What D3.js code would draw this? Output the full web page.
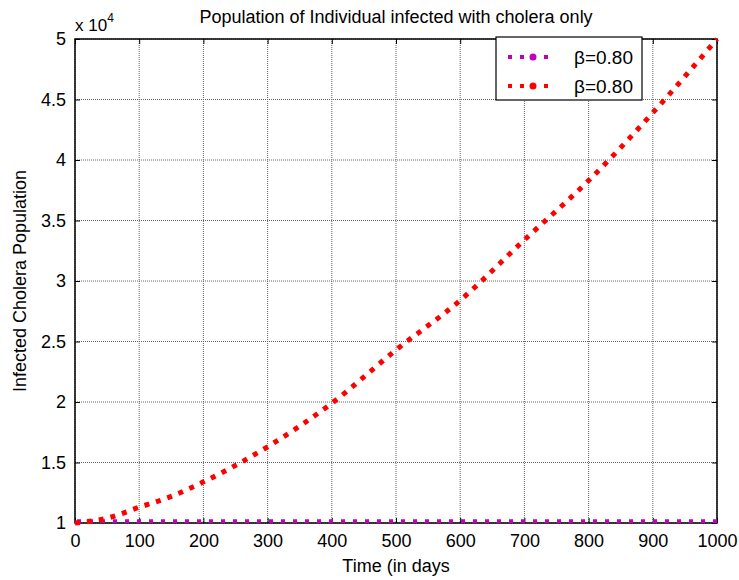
<!DOCTYPE html>
<html>
<head>
<meta charset="utf-8">
<script src="https://cdn.jsdelivr.net/npm/d3@7"></script>
<style>
  body { margin: 0; background: #fff; }
  svg text { font-family: "Liberation Sans", Arial, sans-serif; fill: #000; }
</style>
</head>
<body>
<svg id="chart" width="739" height="580"></svg>
<script>
// data, y in units of 10^4
var days = [0, 50, 100, 150, 200, 300, 400, 500, 600, 700, 800, 900, 1000];
var infectedHigh = [1.0, 1.04, 1.13, 1.22, 1.34, 1.63, 1.99, 2.43, 2.84, 3.34, 3.83, 4.39, 5.0];
var flatDays = [0, 1000];
var infectedFlat = [1.015, 1.015];
var xTicks = [0, 100, 200, 300, 400, 500, 600, 700, 800, 900, 1000];
var yTicks = [1, 1.5, 2, 2.5, 3, 3.5, 4, 4.5, 5];
var legendLabels = ["\u03B2=0.80", "\u03B2=0.80"];
var colors = ["#c000c0", "#ff0000"];

var svg = d3.select("#chart"),
    margin = {top: 39, right: 22, bottom: 57, left: 75},
    width = +svg.attr("width") - margin.left - margin.right,
    height = +svg.attr("height") - margin.top - margin.bottom,
    g = svg.append("g").attr("transform", "translate(" + margin.left + "," + margin.top + ")");

var x = d3.scaleLinear().domain([0, 1000]).range([0, width]);
var y = d3.scaleLinear().domain([1, 5]).range([height, 0]);

// grid
g.append("g").selectAll("line").data(xTicks).enter().append("line")
    .attr("x1", function(d) { return x(d); }).attr("x2", function(d) { return x(d); })
    .attr("y1", 0).attr("y2", height)
    .attr("stroke", "#666").attr("stroke-width", 1).attr("stroke-dasharray", "1,1");
g.append("g").selectAll("line").data(yTicks).enter().append("line")
    .attr("y1", function(d) { return y(d); }).attr("y2", function(d) { return y(d); })
    .attr("x1", 0).attr("x2", width)
    .attr("stroke", "#666").attr("stroke-width", 1).attr("stroke-dasharray", "1,1");

// axes (matlab style ticks inside)
g.append("g")
    .attr("transform", "translate(0," + height + ")")
    .call(d3.axisBottom(x).tickValues(xTicks).tickSizeInner(-5).tickSizeOuter(0).tickPadding(11).tickFormat(d3.format("d")))
    .call(function(a) { a.select(".domain").remove(); a.selectAll("text").style("font-size", "18px"); });
g.append("g")
    .call(d3.axisTop(x).tickValues(xTicks).tickSizeInner(-5).tickSizeOuter(0).tickFormat(""))
    .call(function(a) { a.select(".domain").remove(); });
g.append("g")
    .call(d3.axisLeft(y).tickValues(yTicks).tickSizeInner(-5).tickSizeOuter(0).tickPadding(9).tickFormat(d3.format("")))
    .call(function(a) { a.select(".domain").remove(); a.selectAll("text").style("font-size", "18px"); });
g.append("g")
    .attr("transform", "translate(" + width + ",0)")
    .call(d3.axisRight(y).tickValues(yTicks).tickSizeInner(-5).tickSizeOuter(0).tickFormat(""))
    .call(function(a) { a.select(".domain").remove(); });

g.append("rect")
    .attr("width", width).attr("height", height)
    .attr("fill", "none").attr("stroke", "#000").attr("stroke-width", 1.5);

// lines
var line = d3.line()
    .x(function(d) { return x(d[0]); })
    .y(function(d) { return y(d[1]); })
    .curve(d3.curveMonotoneX);

g.append("path")
    .datum(d3.zip(flatDays, infectedFlat))
    .attr("d", line)
    .attr("fill", "none").attr("stroke", colors[0])
    .attr("stroke-width", 4).attr("stroke-dasharray", "4,8").attr("stroke-dashoffset", -2);

g.append("path")
    .datum(d3.zip(days, infectedHigh))
    .attr("d", line)
    .attr("fill", "none").attr("stroke", colors[1])
    .attr("stroke-width", 5).attr("stroke-dasharray", "5,7");

// labels
svg.append("text")
    .attr("x", margin.left + width / 2).attr("y", 23)
    .attr("text-anchor", "middle").style("font-size", "18px")
    .text("Population of Individual infected with cholera only");

svg.append("text")
    .attr("x", margin.left + width / 2).attr("y", 572)
    .attr("text-anchor", "middle").style("font-size", "18px")
    .text("Time (in days");

svg.append("text")
    .attr("transform", "translate(26," + (margin.top + height / 2) + ") rotate(-90)")
    .attr("text-anchor", "middle").style("font-size", "18px")
    .text("Infected Cholera Population");

var expo = svg.append("text").attr("x", 75).attr("y", 31).style("font-size", "17px");
expo.append("tspan").text("x 10");
expo.append("tspan").attr("dy", -9).style("font-size", "12px").text("4");

// legend
var legend = svg.append("g").attr("transform", "translate(496,37)");
legend.append("rect")
    .attr("width", 146).attr("height", 63)
    .attr("fill", "#fff").attr("stroke", "#000").attr("stroke-width", 1.2);

var item = legend.selectAll("g.item")
    .data(legendLabels)
    .enter().append("g")
    .attr("class", "item")
    .attr("transform", function(d, i) { return "translate(0," + (20 + i * 29) + ")"; });

item.append("line")
    .attr("x1", 12).attr("x2", 60)
    .attr("stroke", function(d, i) { return colors[i]; })
    .attr("stroke-width", 4).attr("stroke-dasharray", "4,8");
item.append("circle")
    .attr("cx", 37).attr("r", 3.5)
    .attr("fill", function(d, i) { return colors[i]; });
item.append("text")
    .attr("x", 78).attr("dy", "0.35em").style("font-size", "19px")
    .text(function(d) { return d; });
</script>
</body>
</html>
